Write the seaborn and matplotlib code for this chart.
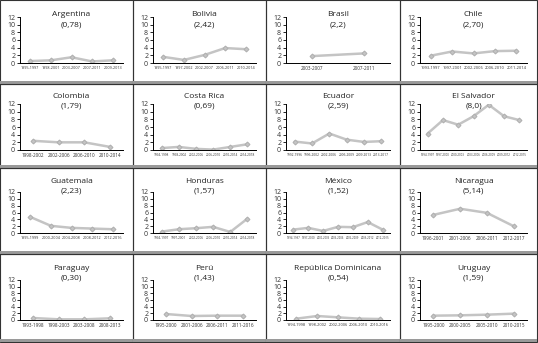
import matplotlib
matplotlib.use("Agg")
import matplotlib.pyplot as plt
import seaborn as sns
import pandas as pd
from matplotlib.patches import Rectangle

sns.set_theme(style="white")
plt.rcParams['font.family'] = ['Open Sans', 'DejaVu Sans']

countries = ["Argentina", "Bolivia", "Brasil", "Chile",
             "Colombia", "Costa Rica", "Ecuador", "El Salvador",
             "Guatemala", "Honduras", "México", "Nicaragua",
             "Paraguay", "Perú", "República Dominicana", "Uruguay"]
averages = ["(0,78)", "(2,42)", "(2,2)", "(2,70)",
            "(1,79)", "(0,69)", "(2,59)", "(8,0)",
            "(2,23)", "(1,57)", "(1,52)", "(5,14)",
            "(0,30)", "(1,43)", "(0,54)", "(1,59)"]

periods = {
    "Argentina": ["1995-1997", "1998-2001", "2003-2007", "2007-2011", "2009-2013"],
    "Bolivia": ["1995-1997", "1997-2002", "2002-2007", "2006-2011", "2010-2014"],
    "Brasil": ["2003-2007", "2007-2011"],
    "Chile": ["1993-1997", "1997-2001", "2002-2006", "2006-2010", "2011-2014"],
    "Colombia": ["1998-2002", "2002-2006", "2006-2010", "2010-2014"],
    "Costa Rica": ["1994-1998", "1998-2002", "2002-2006", "2006-2010", "2010-2014", "2014-2018"],
    "Ecuador": ["1992-1996", "1996-2002", "2002-2006", "2006-2009", "2009-2013", "2013-2017"],
    "El Salvador": ["1994-1997", "1997-2000", "2000-2003", "2003-2006", "2006-2009", "2009-2012", "2012-2015"],
    "Guatemala": ["1995-1999", "2000-2004", "2004-2008", "2008-2012", "2012-2016"],
    "Honduras": ["1994-1997", "1997-2001", "2002-2006", "2006-2010", "2010-2014", "2014-2018"],
    "México": ["1994-1997", "1997-2000", "2000-2003", "2003-2006", "2006-2009", "2009-2012", "2012-2015"],
    "Nicaragua": ["1996-2001", "2001-2006", "2006-2011", "2012-2017"],
    "Paraguay": ["1993-1998", "1998-2003", "2003-2008", "2008-2013"],
    "Perú": ["1995-2000", "2001-2006", "2006-2011", "2011-2016"],
    "República Dominicana": ["1994-1998", "1998-2002", "2002-2006", "2006-2010", "2010-2016"],
    "Uruguay": ["1995-2000", "2000-2005", "2005-2010", "2010-2015"],
}

values = {
    "Argentina": [0.5, 0.7, 1.5, 0.4, 0.7],
    "Bolivia": [1.6, 0.8, 2.1, 3.9, 3.6],
    "Brasil": [1.8, 2.5],
    "Chile": [1.9, 3.0, 2.5, 3.1, 3.2],
    "Colombia": [2.4, 2.0, 2.0, 0.8],
    "Costa Rica": [0.5, 0.8, 0.3, 0.1, 0.8, 1.5],
    "Ecuador": [2.2, 1.7, 4.3, 2.7, 2.1, 2.3],
    "El Salvador": [4.3, 7.8, 6.6, 8.8, 11.8, 8.8, 7.8],
    "Guatemala": [4.7, 2.1, 1.5, 1.3, 1.1],
    "Honduras": [0.4, 1.1, 1.4, 1.8, 0.3, 4.2],
    "México": [1.0, 1.5, 0.6, 1.8, 1.7, 3.2, 1.0],
    "Nicaragua": [5.3, 7.1, 5.9, 2.0],
    "Paraguay": [0.6, 0.2, 0.2, 0.5],
    "Perú": [1.8, 1.2, 1.3, 1.3],
    "República Dominicana": [0.4, 1.2, 0.8, 0.4, 0.3],
    "Uruguay": [1.3, 1.4, 1.6, 1.9],
}

W, H = 538, 343
fig = plt.figure(figsize=(W / 100, H / 100), dpi=100)

col_edges = [0, 133, 266, 400, 537]
row_edges = [0, 84, 168, 254, 342]
top_off = [17, 20, 24, 26]
bot_off = [63, 66, 65, 66]
title_off = [15, 12, 13, 14]

line_color = "#c4c4c4"

for i, country in enumerate(countries):
    r, c = divmod(i, 4)
    x0, x1 = col_edges[c], col_edges[c + 1]
    y0, y1 = row_edges[r], row_edges[r + 1]
    fig.patches.append(Rectangle((x0 / W, 1 - y1 / H), (x1 - x0) / W, (y1 - y0) / H,
                                 transform=fig.transFigure, fill=False,
                                 edgecolor="#333333", linewidth=0.8, zorder=0))
    fig.patches.append(Rectangle((x0 / W, 1 - y1 / H), (x1 - x0) / W, 3 / H,
                                 transform=fig.transFigure, facecolor="#9a9a9a",
                                 edgecolor="none", zorder=0))
    ax_left = x0 + 20
    ax_right = x1 - 10
    ax_top = y0 + top_off[r]
    ax_bot = y0 + bot_off[r]
    ax = fig.add_axes([ax_left / W, 1 - ax_bot / H, (ax_right - ax_left) / W, (ax_bot - ax_top) / H])
    df = pd.DataFrame({"periodo": periods[country], "valor": values[country]})
    df["pos"] = range(len(df))
    sns.lineplot(data=df, x="pos", y="valor", ax=ax, color=line_color, linewidth=1.8,
                 marker="D", markersize=2.5, markeredgecolor="#b0b0b0")
    n = len(df)
    ax.set_xlim(-0.5, n - 0.5)
    ax.set_ylim(0, 12)
    ax.set_yticks(range(0, 13, 2))
    ax.set_xticks(range(n))
    slot_px = (ax_right - ax_left) / n
    fs = min(3.3, slot_px / (9 * 0.6) * 0.72)
    ax.set_xticklabels(periods[country], fontsize=fs)
    ax.set_xticks([k - 0.5 for k in range(n + 1)], minor=True)
    ax.tick_params(axis="x", which="major", length=0, pad=2.5, colors="#333333")
    ax.tick_params(axis="x", which="minor", length=2, width=0.6, color="black", direction="out")
    ax.tick_params(axis="y", which="major", length=2, width=0.6, labelsize=5, pad=1.5,
                   color="black", left=True, labelcolor="#333333")
    ax.set_xlabel("")
    ax.set_ylabel("")
    for s in ["top", "right"]:
        ax.spines[s].set_visible(False)
    for s in ["left", "bottom"]:
        ax.spines[s].set_color("black")
        ax.spines[s].set_linewidth(0.7)
    ax.patch.set_alpha(0)
    cx = (ax_left + ax_right) / 2 / W
    ty = 1 - (y0 + title_off[r]) / H
    fig.text(cx, ty, country, ha="center", va="center", fontsize=6, color="#222222")
    fig.text(cx, ty - 10 / H, averages[i], ha="center", va="center", fontsize=6, color="#222222")

fig.savefig("out.png", dpi=100)
